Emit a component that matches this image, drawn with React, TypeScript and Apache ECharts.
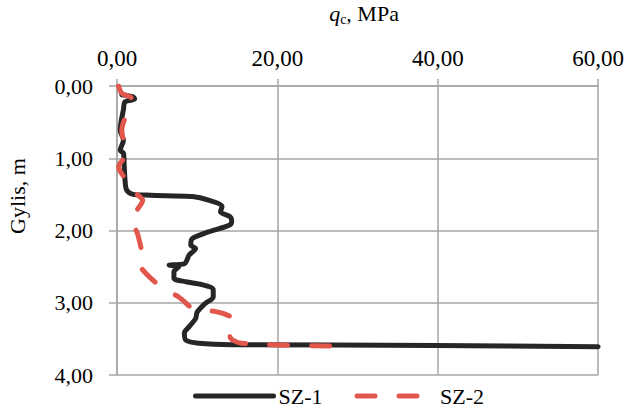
import React, { useEffect, useRef } from "react";
import * as echarts from "echarts";

const sz1Depth = [0.12, 0.15, 0.18, 0.22, 0.33, 0.5, 0.61, 0.75, 0.89, 0.93, 1.1, 1.3, 1.44, 1.5, 1.51, 1.52, 1.53, 1.58, 1.67, 1.74, 1.81, 1.86, 1.92, 2.02, 2.11, 2.2, 2.25, 2.34, 2.46, 2.48, 2.5, 2.57, 2.66, 2.71, 2.75, 2.82, 2.92, 3.01, 3.13, 3.22, 3.33, 3.42, 3.52, 3.56, 3.58, 3.59, 3.61];
const sz1Qc = [0.6, 2.0, 2.2, 1.0, 0.8, 0.5, 0.4, 0.8, 0.4, 0.8, 0.9, 1.0, 1.2, 2.0, 3.6, 6.1, 9.4, 11.4, 13.1, 12.9, 14.1, 14.3, 14.1, 11.4, 9.4, 9.2, 9.8, 9.0, 8.4, 6.5, 7.7, 7.1, 7.1, 8.6, 10.6, 12.0, 12.0, 11.0, 10.0, 9.8, 9.0, 8.4, 8.6, 10.2, 14.3, 39.7, 60];

const sz2Depth = [0.0, 0.1, 0.17, 0.25, 0.38, 0.61, 0.8, 0.93, 1.12, 1.25, 1.39, 1.5, 1.58, 1.7, 1.83, 2.06, 2.41, 2.46, 2.57, 2.8, 2.92, 3.1, 3.12, 3.2, 3.3, 3.47, 3.56, 3.6];
const sz2Qc = [0.2, 0.6, 1.8, 1.6, 1.2, 0.6, 0.9, 1.2, 0.2, 0.8, 1.6, 2.5, 3.2, 2.6, 1.8, 2.6, 3.2, 2.8, 3.4, 5.7, 7.7, 9.8, 12.2, 14.3, 14.7, 14.1, 15.5, 29.3];

const seriesNames = ["SZ-1", "SZ-2"];
const xTicks = [0, 20, 40, 60];
const yTicks = [0, 1, 2, 3, 4];

const FONT = "'Liberation Serif', 'Times New Roman', 'DejaVu Serif', serif";
const fmt = (v: number) => v.toFixed(2).replace(".", ",");

export default function App() {
  const ref = useRef<HTMLDivElement>(null);
  useEffect(() => {
    if (!ref.current) return;
    const chart = echarts.init(ref.current, null, { renderer: "svg" });
    const gridColor = "#a6a6a6";
    chart.setOption({
      animation: false,
      textStyle: { fontFamily: FONT },
      grid: { left: 117, right: 22, top: 86, bottom: 39, containLabel: false },
      graphic: [
        {
          type: "text",
          x: 364,
          y: 26,
          style: {
            text: "{q|q}{c|c}{t|, MPa}",
            textAlign: "center",
            textVerticalAlign: "bottom",
            rich: {
              q: { fontFamily: FONT, fontSize: 22, fontStyle: "italic", fill: "#000" },
              c: { fontFamily: FONT, fontSize: 14, fill: "#000", padding: [12, 0, 0, 0] },
              t: { fontFamily: FONT, fontSize: 22, fill: "#000" },
            },
          },
        },
        {
          type: "text",
          x: 17,
          y: 196,
          rotation: Math.PI / 2,
          style: {
            text: "Gylis, m",
            textAlign: "center",
            textVerticalAlign: "middle",
            fontFamily: FONT,
            fontSize: 22,
            fill: "#000",
          },
        },
      ],
      legend: {
        left: 188,
        bottom: 2,
        itemWidth: 78,
        itemHeight: 10,
        itemGap: 32,
        data: seriesNames,
        itemStyle: { opacity: 0 },
        lineStyle: { width: 5, cap: "round" },
        textStyle: { fontFamily: FONT, fontSize: 22, color: "#000" },
      },
      xAxis: {
        type: "value",
        position: "top",
        min: xTicks[0],
        max: xTicks[xTicks.length - 1],
        interval: 20,
        axisLine: { show: true, lineStyle: { color: gridColor, width: 1.5 } },
        axisTick: { show: true, inside: false, length: 7, lineStyle: { color: gridColor, width: 1.5 } },
        splitLine: { show: true, lineStyle: { color: gridColor, width: 1.5 } },
        axisLabel: { formatter: fmt, fontFamily: FONT, fontSize: 23, color: "#000", margin: 16 },
      },
      yAxis: {
        type: "value",
        inverse: true,
        min: yTicks[0],
        max: yTicks[yTicks.length - 1],
        interval: 1,
        axisLine: { show: true, lineStyle: { color: gridColor, width: 1.5 } },
        axisTick: { show: true, inside: false, length: 8, lineStyle: { color: gridColor, width: 1.5 } },
        splitLine: { show: true, lineStyle: { color: gridColor, width: 1.5 } },
        axisLabel: { formatter: fmt, fontFamily: FONT, fontSize: 22, color: "#000", margin: 24 },
      },
      series: [
        {
          name: seriesNames[0],
          type: "line",
          symbol: "none",
          smooth: 0.3,
          color: "#262626",
          lineStyle: { color: "#262626", width: 5, cap: "round", join: "round" },
          data: sz1Depth.map((d, i) => [sz1Qc[i], d]),
          z: 2,
        },
        {
          name: seriesNames[1],
          type: "line",
          symbol: "none",
          smooth: 0.3,
          color: "#e2574c",
          lineStyle: { color: "#e2574c", width: 5, type: [18, 24], cap: "round", join: "round" },
          data: sz2Depth.map((d, i) => [sz2Qc[i], d]),
          z: 3,
        },
      ],
    });
    return () => chart.dispose();
  }, []);
  return <div ref={ref} style={{ width: 627, height: 414, position: "absolute", left: 0, top: 0 }} />;
}
